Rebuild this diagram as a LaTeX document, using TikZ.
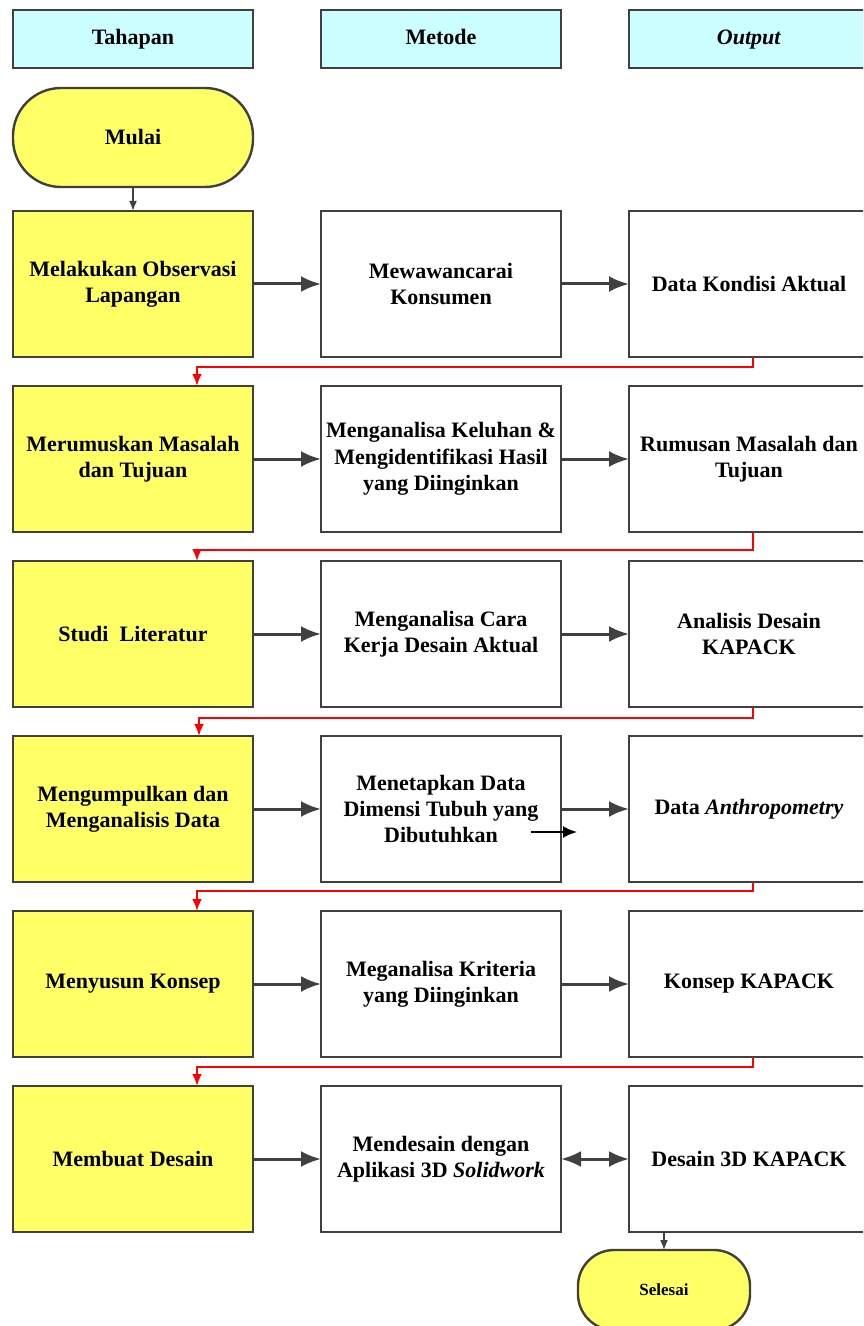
\documentclass[tikz,border=0pt]{standalone}
\usepackage{fontspec}
\setmainfont{Liberation Serif}
\usetikzlibrary{positioning,arrows.meta}
\definecolor{Garis}{HTML}{404040}
\definecolor{Kuning}{HTML}{FFFF66}
\definecolor{Biru}{HTML}{CCFFFF}
\definecolor{Merah}{HTML}{FF0000}

\begin{document}
\begin{tikzpicture}[x=0.5pt,y=-0.5pt,node distance=14.5pt and 34pt,
  every node/.style={font=\bfseries\fontsize{11}{13.2}\selectfont,outer sep=0pt},
  kepala/.style={draw=Garis,line width=1.2pt,fill=Biru,minimum width=120pt,minimum height=29pt,text height=8pt,text depth=2.5pt},
  tahap/.style={draw=Garis,line width=1.2pt,fill=Kuning,minimum width=120pt,minimum height=73pt,inner xsep=1.5pt,align=center},
  kotak/.style={draw=Garis,line width=1.2pt,fill=white,minimum width=120pt,minimum height=73pt,inner xsep=1.5pt,align=center},
  ujung/.style={draw=Garis,line width=1.2pt,fill=Kuning,rounded corners=24pt,minimum width=120pt,minimum height=49.5pt},
  panah/.style={-{Latex[length=10pt,width=8pt]},line width=1.5pt,Garis},
  tipis/.style={-{Latex[length=5pt,width=4pt]},line width=0.8pt,Garis},
  balik/.style={-{Latex[length=6pt,width=5pt]},line width=1.2pt,Merah}]
  \useasboundingbox (0,0) rectangle (863,1326);
  \clip (0,0) rectangle (863,1326);
  % judul kolom
  \node[kepala] (h1) at (133,39) {Tahapan};
  \node[kepala,right=of h1] (h2) {Metode};
  \node[kepala,right=of h2] (h3) {\textit{Output}};
  \node[ujung,below=10pt of h1] (mulai) {Mulai};
  % baris 1
  \node[tahap,below=12pt of mulai] (r1a) {Melakukan Observasi\\Lapangan};
  \node[kotak,right=of r1a] (r1b) {Mewawancarai\\Konsumen};
  \node[kotak,right=of r1b] (r1c) {Data Kondisi Aktual};
  % baris 2
  \node[tahap,below=of r1a] (r2a) {Merumuskan Masalah\\dan Tujuan};
  \node[kotak,right=of r2a] (r2b) {Menganalisa Keluhan \&\\Mengidentifikasi Hasil\\yang Diinginkan};
  \node[kotak,right=of r2b] (r2c) {Rumusan Masalah dan\\Tujuan};
  % baris 3
  \node[tahap,below=of r2a] (r3a) {Studi\ \ Literatur};
  \node[kotak,right=of r3a] (r3b) {Menganalisa Cara\\Kerja Desain Aktual};
  \node[kotak,right=of r3b] (r3c) {Analisis Desain\\KAPACK};
  % baris 4
  \node[tahap,below=of r3a] (r4a) {Mengumpulkan dan\\Menganalisis Data};
  \node[kotak,right=of r4a] (r4b) {Menetapkan Data\\Dimensi Tubuh yang\\Dibutuhkan};
  \node[kotak,right=of r4b] (r4c) {Data \textit{Anthropometry}};
  % baris 5
  \node[tahap,below=of r4a] (r5a) {Menyusun Konsep};
  \node[kotak,right=of r5a] (r5b) {Meganalisa Kriteria\\yang Diinginkan};
  \node[kotak,right=of r5b] (r5c) {Konsep KAPACK};
  % baris 6
  \node[tahap,below=of r5a] (r6a) {Membuat Desain};
  \node[kotak,right=of r6a] (r6b) {Mendesain dengan\\Aplikasi 3D \textit{Solidwork}};
  \node[kotak,right=of r6b] (r6c) {Desain 3D KAPACK};
  \node[ujung,minimum width=86pt,minimum height=40pt,rounded corners=18pt,
        font=\bfseries\fontsize{8.5}{10}\selectfont] (selesai) at (664,1290) {Selesai};
  % panah
  \draw[tipis] (mulai) -- (r1a);
  \draw[panah] (r1a) -- (r1b);
  \draw[panah] (r1b) -- (r1c);
  \draw[panah] (r2a) -- (r2b);
  \draw[panah] (r2b) -- (r2c);
  \draw[panah] (r3a) -- (r3b);
  \draw[panah] (r3b) -- (r3c);
  \draw[panah] (r4a) -- (r4b);
  \draw[panah] (r4b) -- (r4c);
  \coordinate (g1) at (531,832);
  \coordinate (g2) at (577,832);
  \draw[-{Latex[length=7pt,width=6pt]},line width=1pt,black] (g1) -- (g2);
  \draw[panah] (r5a) -- (r5b);
  \draw[panah] (r5b) -- (r5c);
  \draw[panah] (r6a) -- (r6b);
  \draw[panah,{Latex[length=10pt,width=8pt]}-{Latex[length=10pt,width=8pt]}] (r6b) -- (r6c);
  \draw[tipis] (r6c.south -| selesai) -- (selesai);
  % panah balik merah
  \draw[balik] ([xshift=2pt]r1c.south) -- ++(0,10) -| ([xshift=32pt]r2a.north);
  \draw[balik] ([xshift=2pt]r2c.south) -- ++(0,18) -| ([xshift=32pt]r3a.north);
  \draw[balik] ([xshift=2pt]r3c.south) -- ++(0,11) -| ([xshift=33pt]r4a.north);
  \draw[balik] ([xshift=2pt]r4c.south) -- ++(0,9) -| ([xshift=32pt]r5a.north);
  \draw[balik] ([xshift=2pt]r5c.south) -- ++(0,10) -| ([xshift=32pt]r6a.north);
\end{tikzpicture}
\end{document}
